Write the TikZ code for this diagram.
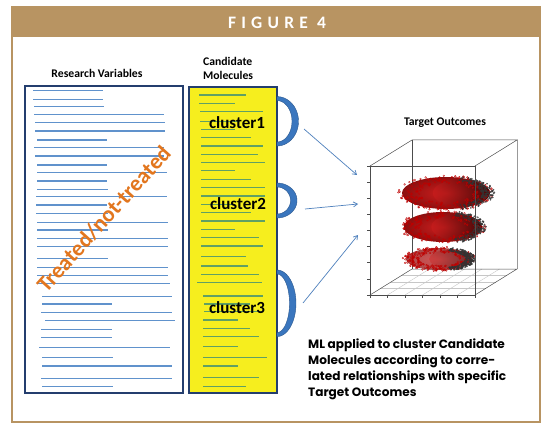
\documentclass[tikz,border=0pt]{standalone}
\usepackage{fontspec}
\setmainfont{Carlito}
\newfontfamily\futfont{Poppins}
\usetikzlibrary{arrows.meta,calc}
\definecolor{frameBrown}{RGB}{184,148,98}
\definecolor{boxBlue}{RGB}{36,62,110}
\definecolor{lineBlue}{RGB}{96,146,204}
\definecolor{lineGreen}{RGB}{96,160,100}
\definecolor{molYellow}{RGB}{246,238,30}
\definecolor{arcBlue}{RGB}{58,118,190}
\definecolor{treatOrange}{RGB}{226,118,30}
\definecolor{arrowBlue}{RGB}{79,129,189}
\definecolor{cloudRed}{RGB}{205,30,30}
\definecolor{cloudDark}{RGB}{140,15,15}
\tikzset{
  rvline/.style={lineBlue,line width=1.4pt},
  cmline/.style={lineGreen,line width=1.3pt},
  listbox/.style={draw=boxBlue,line width=1.3pt},
  headlabel/.style={font=\bfseries\fontsize{11.7}{13.3}\selectfont,inner sep=0pt},
  clusterlabel/.style={font=\bfseries\fontsize{17}{17}\selectfont,inner sep=0pt},
  crescent/.style={fill=arcBlue,draw=arcBlue!75!black,line width=0.4pt},
  conn/.style={arrowBlue,line width=0.7pt,-{Straight Barb[length=4pt,width=5pt]}},
  plotedge/.style={black!70,line width=0.5pt},
  gridline/.style={black!22,line width=0.4pt},
  dotred/.style={draw=red!75!black,line width=0.3pt},
  dotdark/.style={draw=black!80,line width=0.3pt},
}
\newcommand{\crescentat}[4]{% ym, ry, rx, name
  \fill[crescent] plot[domain=-90:90,samples=40] ({277+#3*cos(\x)},{#1+#2*sin(\x)})
     -- plot[domain=90:-90,samples=40] ({277+(#3-6.5)*cos(\x)},{#1+(#2-4)*sin(\x)}) -- cycle;
}
\newcommand{\redcloud}[6]{% cx, cy, rx, ry, ndots, opacity
  \shade[inner color=cloudRed,outer color=cloudDark,opacity=#6] (#1,#2) ellipse [x radius=#3, y radius=#4];
  \shade[left color=cloudRed,right color=black,opacity=0.5*#6] (#1+0.35*#3,#2) ellipse [x radius=0.65*#3, y radius=0.85*#4];
  \foreach \i in {1,...,#5}{
    \pgfmathsetmacro\ang{rnd*360}
    \pgfmathsetmacro\rr{0.6+0.5*rnd}
    \draw[dotred] ({#1+#3*\rr*cos(\ang)},{#2+#4*\rr*sin(\ang)}) circle[radius=0.9];
  }
  \foreach \i in {1,...,#5}{
    \pgfmathsetmacro\ang{-70+140*rnd}
    \pgfmathsetmacro\rr{0.8+0.3*rnd}
    \draw[dotdark] ({#1+#3*\rr*cos(\ang)},{#2+#4*\rr*sin(\ang)}) circle[radius=0.7];
  }
}
\begin{document}
\begin{tikzpicture}[x=1pt,y=-1pt]
\useasboundingbox (0,0) rectangle (550,428);
\fill[white] (0,0) rectangle (550,428);
% frame and header
\draw[frameBrown,line width=1.6pt] (12,7) rectangle (540,422);
\fill[frameBrown] (12,7) rectangle (540,37);
\node[text=white,inner sep=0pt,font={\fontsize{17.5}{17.5}\selectfont\bfseries\addfontfeature{LetterSpace=30}}] (title) at (277,22.5) {FIGURE 4};

% headings
\node[headlabel] (rvhead) at (97,73) {Research Variables};
\node[headlabel,align=left,anchor=west] (cmhead) at (203,68.5) {Candidate\\Molecules};
\node[headlabel] (tohead) at (445,123) {Target Outcomes};

% research variables box
\node[listbox,minimum width=158pt,minimum height=307pt,inner sep=0pt] (rvbox) at (104,239.5) {};
\foreach \y/\a/\b in {90.7/33/103,99.3/33/103,106.7/34/104,114.3/34/164,122.7/35/165,131/35/165,140/37/107,147.7/34/164,156/35/164,165/37/107,172.7/37/167,181/37/107,189.3/37/108,196.7/36/167,205/36/107,213.3/36/108,222.3/37/168,230/37/108,238.3/37/168,246.7/37/168,258.3/37/108,267.3/37/168,275.7/37/168,283.3/37/170,296.7/42/172,304/42/112,312.7/41/172,320.7/45/175,329.3/41/112,337.3/41/112,347.7/39/170,357.7/42/113,366/42/172,378.3/41/172,386.7/42/113}
  {\draw[rvline] (\a,\y) -- (\b,\y);}
\node[rotate=48,text=treatOrange,inner sep=0pt,font=\bfseries\fontsize{22.5}{22.5}\selectfont] (treat) at (104,219) {Treated/not-treated};

% candidate molecules box
\node[listbox,fill=molYellow,minimum width=88pt,minimum height=306pt,inner sep=0pt] (cmbox) at (233,240) {};
\foreach \y/\a/\b in {95/199/246,103.3/199/235,111.7/200/263,121.7/200/240,129.3/201/235,137.7/201/251,146/201/263,154.3/201/258,162.7/201/265,170.7/201/235,179.3/201/251,187.7/201/265,196/201/265,204.3/201/235,212.7/201/251,221/201/265,229.3/201/235,237.3/201/259,246/201/263,256.7/201/246,266/201/248,274.3/201/259,282.7/197/262,296/203/263,304/204/250,311.7/204/262,320/203/238,328.3/203/250,336.7/203/259,346.7/203/238,357.7/203/267,366/203/238,377.3/203/259,386.7/203/246}
  {\draw[cmline] (\a,\y) -- (\b,\y);}
\node[clusterlabel] (cl1) at (237,122.5) {cluster1};
\node[clusterlabel] (cl2) at (238,204) {cluster2};
\node[clusterlabel] (cl3) at (237,307.5) {cluster3};

% crescents
\crescentat{121.3}{24.7}{21.5}{c1}
\crescentat{200.5}{17.5}{20}{c2}
\crescentat{303.3}{33.3}{19}{c3}

% 3D plot
\coordinate (F1) at (370,166);
\coordinate (F2) at (475,166);
\coordinate (F3) at (475,295);
\coordinate (F4) at (370,295);
\coordinate (B1) at (412,140);
\coordinate (B2) at (517,140);
\coordinate (B3) at (517,269);
\coordinate (B4) at (412,269);
% bottom grid
\foreach \t in {0.1667,0.3333,0.5,0.6667,0.8333}
  {\draw[gridline] ($(F4)!\t!(F3)$) -- ($(B4)!\t!(B3)$);}
\foreach \t in {0.25,0.5,0.75}
  {\draw[gridline] ($(F4)!\t!(B4)$) -- ($(F3)!\t!(B3)$);}
\draw[plotedge,black!40] (B2) -- (B3);
\draw[plotedge] (B4) -- (B1);
\draw[plotedge] (F4) -- (B4) -- (B3) -- (F3);
\pgfmathsetseed{7}
\redcloud{446}{193}{44}{16}{200}{1}
\redcloud{443}{227}{39}{15}{180}{1}
\redcloud{439}{259}{33}{11}{240}{0.75}
\draw[plotedge] (F1) rectangle (F3);
\draw[plotedge] (F1) -- (B1) -- (B2) -- (F2);
\foreach \y in {166,182,198,214,230,246,262,279,295}
  {\draw[plotedge,line width=0.4pt] (367,\y) -- (370,\y);}
\foreach \x in {370,387.5,405,422.5,440,457.5,475}
  {\draw[plotedge,line width=0.4pt] (\x,295) -- (\x,298);}

% connectors
\coordinate (a1s) at (304,129);
\coordinate (a1e) at (357,175);
\coordinate (a2s) at (305,209);
\coordinate (a2e) at (358,204);
\coordinate (a3s) at (303,303);
\coordinate (a3e) at (358,235);
\draw[conn] (a1s) -- (a1e);
\draw[conn] (a2s) -- (a2e);
\draw[conn] (a3s) -- (a3e);

% caption
\node[anchor=north west,inner sep=0pt,align=left,font={\futfont\bfseries\fontsize{12.1}{16}\selectfont}] (caption) at (308,338.5)
  {ML applied to cluster Candidate\\Molecules according to corre-\\lated relationships with specific\\Target Outcomes};
\end{tikzpicture}
\end{document}
